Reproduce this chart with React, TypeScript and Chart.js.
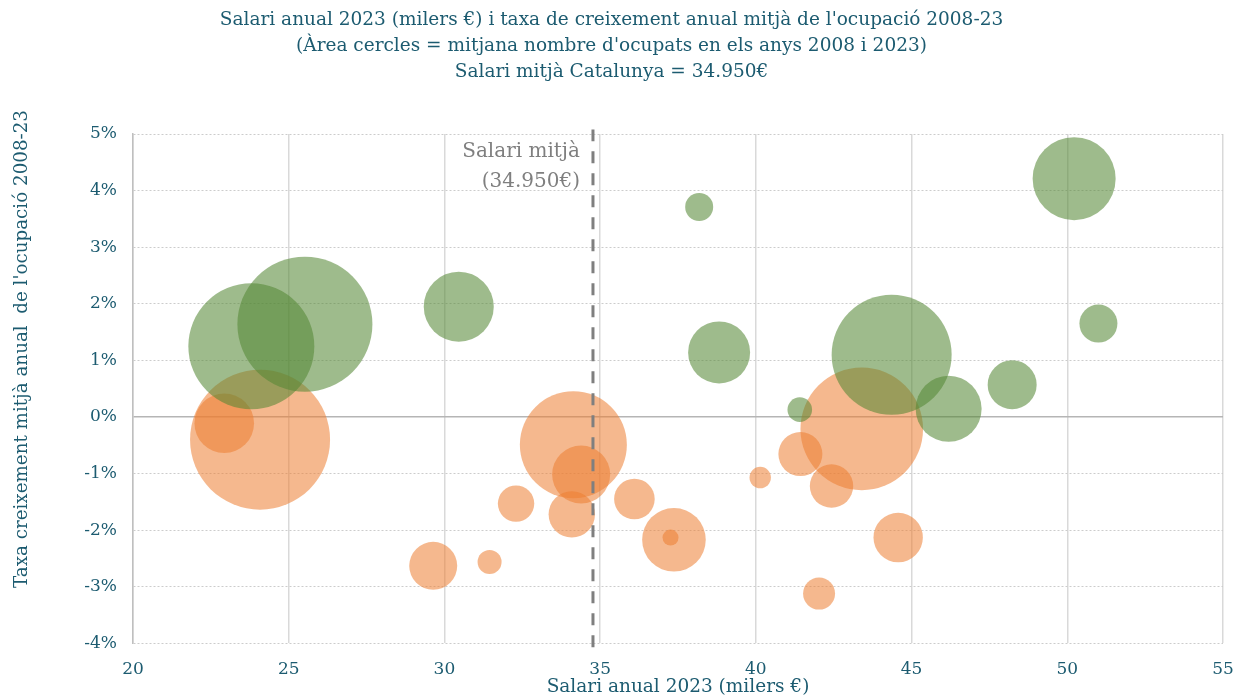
import React, { useEffect, useRef } from "react";
import { Chart, registerables } from "chart.js";

Chart.register(...registerables);

const TITLE_LINES = [
  "Salari anual 2023 (milers €) i taxa de creixement anual mitjà de l'ocupació 2008-23",
  "(Àrea cercles = mitjana nombre d'ocupats en els anys 2008 i 2023)",
  "Salari mitjà Catalunya = 34.950€",
];
const X_TITLE = "Salari anual 2023 (milers €)";
const Y_TITLE = "Taxa creixement mitjà anual  de l'ocupació 2008-23";
const MEAN_LABEL = ["Salari mitjà", "(34.950€)"];
const MEAN_LINE_X = 34.77;
const MEAN_LINE_Y = [-4.07, 5.08];

const X_MIN = 20;
const X_MAX = 55;
const X_STEP = 5;
const Y_MIN = -4;
const Y_MAX = 5;
const Y_STEP = 1;

// Positive employment growth (green)
const posX = [23.8, 25.52, 30.46, 38.18, 38.82, 50.22, 51.0, 44.36, 46.19, 48.23, 41.41];
const posY = [1.25, 1.64, 1.95, 3.71, 1.14, 4.21, 1.65, 1.1, 0.145, 0.57, 0.13];
const posR = [63, 67.5, 35, 14, 31, 41.5, 19, 60, 33, 24.5, 12.3];

// Negative employment growth (orange)
const negX = [24.08, 22.93, 34.14, 34.39, 34.09, 32.3, 29.64, 31.45, 36.1, 37.37, 37.26, 40.14, 41.43, 42.43, 43.4, 44.57, 42.03];
const negY = [-0.4, -0.11, -0.49, -1.015, -1.72, -1.53, -2.63, -2.56, -1.45, -2.17, -2.13, -1.07, -0.655, -1.22, -0.21, -2.13, -3.12];
const negR = [70, 29.8, 53.5, 29, 23.2, 18.2, 24, 12, 20.3, 31.8, 8, 10.7, 22, 21.7, 61.3, 24.7, 16];

const FONT = "'DejaVu Serif', 'Liberation Serif', serif";
const TEAL = "#1c5b70";
const GREEN = "rgba(84, 135, 53, 0.57)";
const ORANGE = "rgba(237, 125, 49, 0.55)";
const GREY = "#7f7f7f";

const annotatePlugin = {
  id: "annotate",
  afterDatasetsDraw(chart: any) {
    const { ctx, chartArea, scales } = chart;
    ctx.save();
    const x = scales.x.getPixelForValue(MEAN_LINE_X) - 13;
    ctx.font = `20px ${FONT}`;
    ctx.fillStyle = GREY;
    ctx.textAlign = "right";
    ctx.textBaseline = "middle";
    ctx.fillText(MEAN_LABEL[0], x, chartArea.top + 18);
    ctx.fillText(MEAN_LABEL[1], x, chartArea.top + 48);
    ctx.restore();

    ctx.save();
    ctx.translate(22, 349);
    ctx.rotate(-Math.PI / 2);
    ctx.font = `18.3px ${FONT}`;
    ctx.fillStyle = TEAL;
    ctx.textAlign = "center";
    ctx.textBaseline = "middle";
    ctx.fillText(Y_TITLE, 0, 0);
    ctx.restore();
  },
};

export default function App() {
  const ref = useRef<HTMLCanvasElement | null>(null);

  useEffect(() => {
    if (!ref.current) return;
    const chart = new Chart(ref.current, {
      type: "bubble",
      data: {
        datasets: [
          {
            type: "line",
            label: "Salari mitjà",
            data: MEAN_LINE_Y.map((y) => ({ x: MEAN_LINE_X, y })),
            borderColor: GREY,
            borderWidth: 3,
            borderDash: [12, 10],
            pointRadius: 0,
            fill: false,
            clip: false,
            order: 0,
          } as any,
          {
            label: "Creixement positiu",
            data: posX.map((x, i) => ({ x, y: posY[i], r: posR[i] })),
            backgroundColor: GREEN,
            borderWidth: 0,
            order: 1,
          },
          {
            label: "Creixement negatiu",
            data: negX.map((x, i) => ({ x, y: negY[i], r: negR[i] })),
            backgroundColor: ORANGE,
            borderWidth: 0,
            order: 2,
          },
        ],
      },
      options: {
        responsive: false,
        animation: false,
        devicePixelRatio: 1,
        layout: { autoPadding: false, padding: { left: 0, right: 13, top: 0, bottom: 0 } },
        plugins: {
          legend: { display: false },
          tooltip: { enabled: false },
          title: {
            display: true,
            text: TITLE_LINES,
            color: TEAL,
            font: { family: FONT, size: 18.5, weight: "normal", lineHeight: "26px" as any },
            padding: { top: 7, bottom: 49 },
          },
        },
        scales: {
          x: {
            type: "linear",
            min: X_MIN,
            max: X_MAX,
            afterFit: (scale: any) => {
              scale.paddingRight = 0;
            },
            ticks: {
              stepSize: X_STEP,
              color: TEAL,
              font: { family: FONT, size: 17 },
              padding: 16,
            },
            grid: { color: "#d9d9d9", lineWidth: 1.5, drawTicks: false },
            border: { display: false },
            title: {
              display: true,
              text: X_TITLE,
              color: TEAL,
              font: { family: FONT, size: 18.5 },
              padding: { top: -20, bottom: 0 },
            },
          },
          y: {
            type: "linear",
            min: Y_MIN,
            max: Y_MAX,
            afterFit: (scale: any) => {
              scale.width = 133;
            },
            ticks: {
              stepSize: Y_STEP,
              color: TEAL,
              font: { family: FONT, size: 17 },
              padding: 16,
              callback: (v: any) => `${v}%`,
            },
            grid: {
              drawTicks: false,
              color: (c: any) => (c.tick && c.tick.value === 0 ? "#b5b5b5" : "#cccccc"),
              lineWidth: (c: any) => (c.tick && c.tick.value === 0 ? 1.5 : 1),
            },
            border: {
              display: true,
              color: "#bfbfbf",
              width: 1.5,
              dash: (c: any) => (c.tick && c.tick.value === 0 ? [] : [2, 2]),
            } as any,
          },
        },
      },
      plugins: [annotatePlugin],
    });
    return () => chart.destroy();
  }, []);

  return (
    <div style={{ position: "fixed", left: 0, top: 0, width: 1236, height: 698, background: "#fff" }}>
      <canvas ref={ref} width={1236} height={698} />
    </div>
  );
}
